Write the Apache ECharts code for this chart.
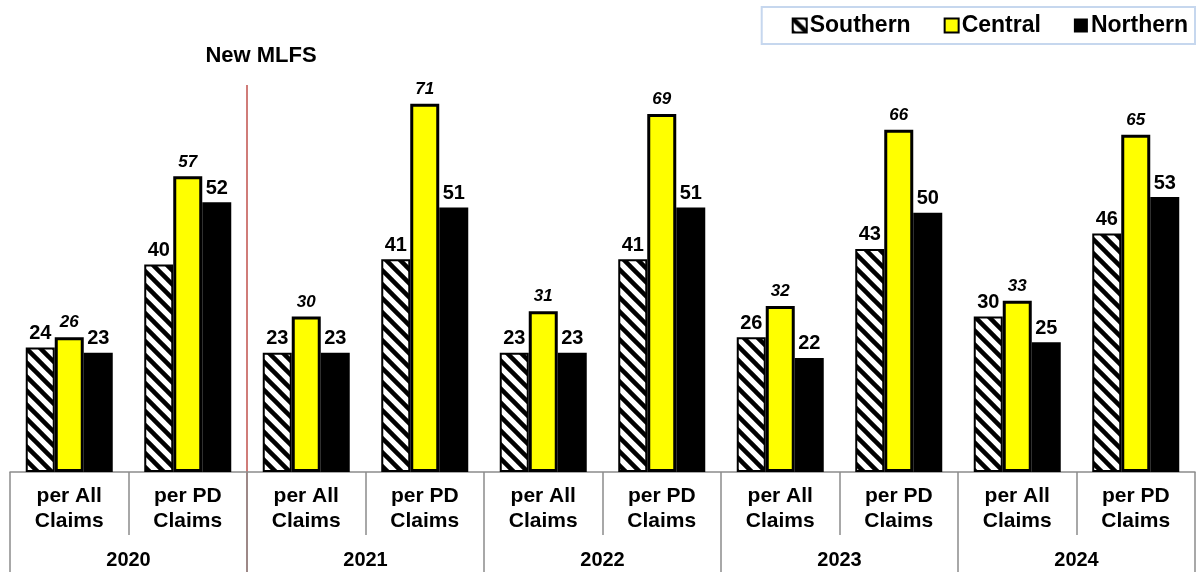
<!DOCTYPE html>
<html><head><meta charset="utf-8">
<script src="https://cdn.jsdelivr.net/npm/echarts@6/dist/echarts.min.js"></script>
<style>html,body{margin:0;padding:0;background:#fff}#c{width:1198px;height:572px}</style>
</head><body><div id="c"></div>
<script>
const categories = ['per All\nClaims','per PD\nClaims','per All\nClaims','per PD\nClaims','per All\nClaims','per PD\nClaims','per All\nClaims','per PD\nClaims','per All\nClaims','per PD\nClaims'];
const years = ['2020','2021','2022','2023','2024'];
const southern = [24,40,23,41,23,41,26,43,30,46];
const central  = [26,57,30,71,31,69,32,66,33,65];
const northern = [23,52,23,51,23,51,22,50,25,53];
const markerCategory = 2; // "New MLFS" starts at 2021
const markerText = 'New MLFS';

function hatch(){
  const s = 14, c = document.createElement('canvas');
  c.width = s; c.height = s;
  const g = c.getContext('2d');
  g.fillStyle = '#fff'; g.fillRect(0,0,s,s);
  g.strokeStyle = '#000'; g.lineWidth = 4.5;
  [-s,0,s].forEach(o=>{ g.beginPath(); g.moveTo(o-2,-2); g.lineTo(o+s+2,s+2); g.stroke(); });
  return c;
}
const pat = {image: hatch(), repeat: 'repeat'};
const font = 'Liberation Sans, Arial, sans-serif';

const chart = echarts.init(document.getElementById('c'), null, {renderer:'canvas'});
chart.setOption({
  animation:false,
  textStyle:{fontFamily:font},
  grid:{left:10,right:3,top:57,bottom:100},
  legend:{
    right:3, top:7, padding:[7,7,7,30], itemGap:33, itemWidth:14, itemHeight:14,
    borderColor:'#c6d7ee', borderWidth:2, icon:'rect',
    textStyle:{fontSize:23,fontWeight:'bold',color:'#000',fontFamily:font,padding:[0,0,0,-2]},
    data:['Southern','Central','Northern']
  },
  xAxis:[
    {type:'category',data:categories,position:'bottom',
     axisLine:{show:true,lineStyle:{color:'#8c8c8c',width:1.5}},
     axisTick:{show:true,interval:0,length:63,lineStyle:{color:'#8c8c8c',width:1.5}},
     axisLabel:{interval:0,margin:12,fontSize:21,fontWeight:'bold',color:'#000',lineHeight:25,fontFamily:font}},
    {type:'category',data:years,position:'bottom',
     axisLine:{show:false},
     axisTick:{show:true,interval:0,length:100,lineStyle:{color:'#8c8c8c',width:1.5}},
     axisLabel:{interval:0,margin:78,fontSize:20,fontWeight:'bold',color:'#000',fontFamily:font}}
  ],
  yAxis:{type:'value',min:0,max:80,show:false,splitLine:{show:false}},
  series:[
    {name:'Southern',type:'bar',data:southern,barWidth:29,barGap:'0%',
     itemStyle:{color:pat,borderColor:'#000',borderWidth:2},
     label:{show:true,position:'top',distance:4,fontSize:20,fontWeight:'bold',color:'#000',fontFamily:font}},
    {name:'Central',type:'bar',data:central,barWidth:29,barGap:'0%',
     itemStyle:{color:'#ffff00',borderColor:'#000',borderWidth:3},
     label:{show:true,position:'top',distance:6,fontSize:17,fontWeight:'bold',fontStyle:'italic',color:'#000',fontFamily:font}},
    {name:'Northern',type:'bar',data:northern,barWidth:29,barGap:'0%',
     itemStyle:{color:'#000'},
     label:{show:true,position:'top',distance:4,fontSize:20,fontWeight:'bold',color:'#000',fontFamily:font}}
  ]
});
const a = chart.convertToPixel({xAxisIndex:0}, markerCategory-1);
const b = chart.convertToPixel({xAxisIndex:0}, markerCategory);
const xm = (a+b)/2;
const yTop = chart.convertToPixel({yAxisIndex:0}, 74.6);
chart.setOption({graphic:[
  {type:'line',shape:{x1:xm,y1:yTop,x2:xm,y2:572},style:{stroke:'#c0504d',lineWidth:1.5},silent:true},
  {type:'text',x:xm+14,y:yTop-29,style:{text:markerText,align:'center',verticalAlign:'middle',font:'bold 22px '+font,fill:'#000'}}
]});
</script></body></html>
